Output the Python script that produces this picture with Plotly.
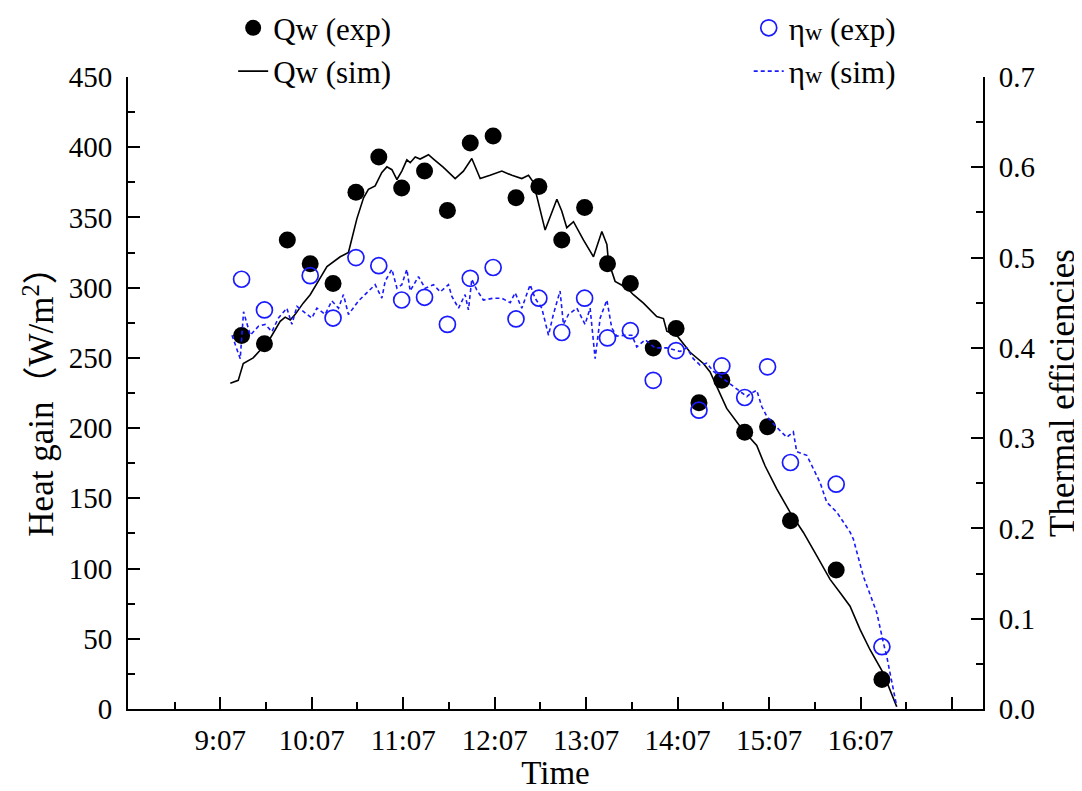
import plotly.graph_objects as go

# ---- data (time in minutes after midnight) ----
exp_t = [561, 576, 591, 606, 621, 636, 651, 666, 681, 696, 711, 726, 741, 756,
         771, 786, 801, 816, 831, 846, 861, 876, 891, 906, 921, 951, 981]
qw_exp = [266, 260, 334, 317, 303, 368, 393, 371, 383, 355, 403, 408, 364, 372,
          334, 357, 317, 303, 257, 271, 218, 234, 197, 201, 134, 99, 21]

eta_exp_t = [561, 576, 606, 621, 636, 651, 666, 681, 696, 711, 726, 741, 756,
             771, 786, 801, 816, 831, 846, 861, 876, 891, 906, 921, 951, 981]
eta_exp = [0.476, 0.442, 0.480, 0.433, 0.500, 0.491, 0.453, 0.456, 0.426, 0.477,
           0.489, 0.432, 0.455, 0.417, 0.455, 0.411, 0.419, 0.364, 0.397, 0.331,
           0.380, 0.345, 0.379, 0.273, 0.249, 0.069]

qw_sim_t = [553.6, 558.8, 562.1, 568.6, 574.5, 579.8, 586.3, 589.6, 592.9, 596.2,
            601.4, 606.0, 612.6, 617.0, 625.7, 631.1, 636.6, 641.0, 644.2, 648.6,
            653.0, 656.3, 659.6, 662.9, 666.1, 669.4, 671.6, 674.9, 678.1, 683.6,
            686.9, 693.4, 701.1, 706.5, 712.0, 717.5, 724.0, 731.7, 738.3, 744.8,
            749.2, 752.4, 760.1, 763.4, 767.8, 771.0, 774.3, 778.7, 785.2, 791.8,
            797.3, 800.6, 801.6, 806.0, 813.7, 818.0, 824.6, 833.3, 837.7, 839.9,
            846.5, 855.2, 863.9, 868.3, 879.2, 889.1, 898.9, 904.4, 912.0, 920.8,
            929.5, 938.3, 947.0, 953.6, 960.1, 966.7, 973.2, 981.9, 990.7]
qw_sim = [232, 234, 246, 250, 257, 264, 276, 279, 277, 281,
          289, 295, 307, 315, 322, 325, 349, 364, 370, 372.5,
          382, 386, 384, 377, 383, 391, 389, 393, 391.6, 394.7,
          391.6, 385.6, 377.7, 383, 392, 377.7, 380, 383, 380, 377.7,
          380, 375, 341, 351, 363, 354.6, 342.7, 347, 334, 322,
          340, 330.7, 319, 304.5, 299.8, 295, 289, 279.5, 278, 269,
          266, 254, 246, 240, 214, 199.6, 187.6, 173, 156.7, 140,
          125.7, 109, 92.3, 82.8, 73.2, 56.5, 42.2, 25.5, 1.6]

eta_sim_t = [554.7, 560.1, 562.3, 566.7, 572.1, 576.5, 580.9, 585.2, 590.7, 594.0,
             597.3, 602.7, 607.1, 610.4, 615.8, 620.2, 624.6, 627.8, 631.1, 637.7,
             644.2, 648.6, 653.0, 655.2, 659.6, 662.9, 666.1, 669.4, 671.6, 677.0,
             681.4, 686.9, 691.3, 696.7, 698.9, 703.3, 707.6, 709.8, 712.0, 715.3,
             719.6, 726.2, 731.7, 737.2, 740.4, 744.8, 750.3, 753.5, 757.9, 762.3,
             765.5, 769.9, 772.1, 775.4, 780.9, 786.3, 789.6, 792.9, 796.2, 800.6,
             803.8, 807.1, 812.6, 817.0, 820.2, 825.7, 832.2, 839.9, 848.6, 853.0,
             857.3, 861.7, 866.1, 870.5, 879.2, 885.8, 892.4, 894.5, 898.9, 902.2,
             905.5, 912.0, 918.6, 922.9, 925.1, 931.7, 940.4, 944.8, 951.4, 960.1,
             962.3, 968.8, 977.6, 982.0, 984.2, 986.3, 990.7]
eta_sim = [0.414, 0.388, 0.440, 0.414, 0.424, 0.426, 0.418, 0.433, 0.444, 0.426,
           0.446, 0.439, 0.433, 0.444, 0.437, 0.452, 0.444, 0.459, 0.437, 0.452,
           0.463, 0.470, 0.455, 0.474, 0.487, 0.466, 0.470, 0.487, 0.463, 0.479,
           0.466, 0.470, 0.462, 0.470, 0.457, 0.444, 0.459, 0.442, 0.476, 0.464,
           0.453, 0.455, 0.455, 0.450, 0.461, 0.444, 0.470, 0.455, 0.444, 0.414,
           0.437, 0.463, 0.426, 0.437, 0.444, 0.426, 0.444, 0.388, 0.433, 0.453,
           0.422, 0.413, 0.414, 0.414, 0.401, 0.409, 0.400, 0.400, 0.396, 0.400,
           0.388, 0.381, 0.383, 0.374, 0.363, 0.355, 0.346, 0.349, 0.353, 0.335,
           0.324, 0.312, 0.301, 0.307, 0.285, 0.281, 0.251, 0.229, 0.218, 0.196,
           0.188, 0.147, 0.107, 0.073, 0.058, 0.040, 0.003]

tick_vals = [547, 607, 667, 727, 787, 847, 907, 967, 1027]
tick_text = ["9:07", "10:07", "11:07", "12:07", "13:07", "14:07", "15:07", "16:07", ""]
minor_vals = [517, 577, 637, 697, 757, 817, 877, 937, 997]

FONT = "Liberation Serif, Noto Sans CJK SC, serif"
BLUE = "#1a1aff"

fig = go.Figure()
fig.add_trace(go.Scatter(x=exp_t, y=qw_exp, mode="markers", name="Qw (exp)",
                         marker=dict(color="black", size=17),
                         legend="legend"))
fig.add_trace(go.Scatter(x=qw_sim_t, y=qw_sim, mode="lines", name="Qw (sim)",
                         line=dict(color="black", width=1.6),
                         legend="legend"))
fig.add_trace(go.Scatter(x=eta_exp_t, y=eta_exp, mode="markers",
                         name="η<span style='font-size:24px'>w</span> (exp)",
                         marker=dict(color=BLUE, size=16, symbol="circle-open",
                                     line=dict(color=BLUE, width=1.7)),
                         yaxis="y2", legend="legend2"))
fig.add_trace(go.Scatter(x=eta_sim_t, y=eta_sim, mode="lines",
                         name="η<span style='font-size:24px'>w</span> (sim)",
                         line=dict(color=BLUE, width=1.6, dash="4px,3px"),
                         yaxis="y2", legend="legend2"))

axis_common = dict(showline=True, linecolor="black", linewidth=2, ticks="inside",
                   tickcolor="black", tickwidth=2, ticklen=12, showgrid=False,
                   zeroline=False, automargin=False,
                   tickfont=dict(family=FONT, size=29, color="black"))

fig.update_layout(
    width=1074, height=783,
    margin=dict(l=120, r=99, t=69, b=82, autoexpand=False),
    paper_bgcolor="white", plot_bgcolor="white",
    font=dict(family=FONT, color="black"),
    xaxis=dict(range=[486.5, 1047.3], tickmode="array", tickvals=tick_vals, ticktext=tick_text,
               minor=dict(tickvals=minor_vals, ticks="inside", ticklen=7, tickwidth=2, tickcolor="black"),
               ticklabelstandoff=4,
               title=dict(text="Time", font=dict(family=FONT, size=33), standoff=14),
               **axis_common),
    yaxis=dict(range=[0, 450], dtick=50,
               minor=dict(dtick=25, ticks="inside", ticklen=7, tickwidth=2, tickcolor="black"),
               ticklabelstandoff=8,
               title=dict(text="Heat gain（W/m<sup>2</sup>）", font=dict(family=FONT, size=35), standoff=4),
               **axis_common),
    yaxis2=dict(range=[0, 0.7], dtick=0.1, tickformat=".1f", overlaying="y", side="right",
                minor=dict(dtick=0.05, ticks="inside", ticklen=7, tickwidth=2, tickcolor="black"),
                ticklabelstandoff=8,
                title=dict(text="Thermal efficiencies", font=dict(family=FONT, size=35), standoff=15),
                **axis_common),
    legend=dict(x=0.123, y=1.12, xanchor="left", yanchor="top", bgcolor="rgba(0,0,0,0)",
                font=dict(family=FONT, size=31), traceorder="normal"),
    legend2=dict(x=0.726, y=1.12, xanchor="left", yanchor="top", bgcolor="rgba(0,0,0,0)",
                 font=dict(family=FONT, size=31), traceorder="normal"),
    showlegend=True,
)

fig.write_html("out.html")
